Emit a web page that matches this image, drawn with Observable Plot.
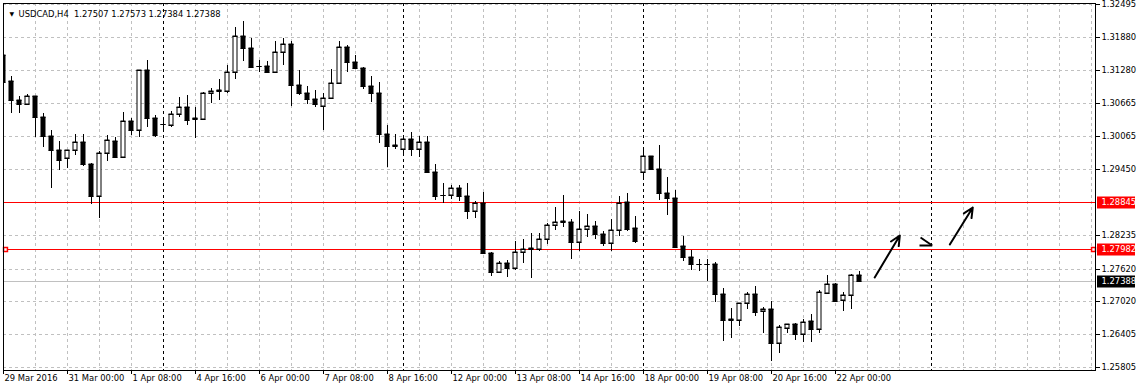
<!DOCTYPE html>
<html><head><meta charset="utf-8">
<script src="https://cdn.jsdelivr.net/npm/d3@7"></script>
<script src="https://cdn.jsdelivr.net/npm/@observablehq/plot@0.6"></script>
<style>
html,body{margin:0;padding:0;background:#fff;}
#chart{width:1138px;height:391px;overflow:hidden;}
</style></head><body><div id="chart"></div>
<script>
const symbol = "USDCAD";
const timeframe = "H4";
const opens = [1.31555,1.31076,1.30726,1.30646,1.30794,1.30407,1.30068,1.29810,1.29651,1.29799,
1.29946,1.29546,1.28962,1.29743,1.29965,1.29681,1.30333,1.30173,1.31279,1.30400,
1.30283,1.30271,1.30462,1.30591,1.30388,1.30376,1.30849,1.30910,1.30886,1.31236,
1.31905,1.31690,1.31352,1.31347,1.31247,1.31605,1.31752,1.31002,1.30860,1.30739,
1.30621,1.30757,1.31034,1.31697,1.31421,1.31321,1.30989,1.30849,1.30094,1.29891,
1.29817,1.30001,1.29828,1.29946,1.29399,1.28969,1.28969,1.29098,1.28962,1.28686,
1.28822,1.27911,1.27550,1.27716,1.27624,1.27930,1.27998,1.27980,1.28164,1.28416,
1.28496,1.28472,1.28114,1.28348,1.28398,1.28262,1.28096,1.28324,1.28840,1.28367,
1.29393,1.29688,1.29454,1.29017,1.28925,1.28035,1.27827,1.27703,1.27698,1.27698,
1.27145,1.26684,1.26680,1.26979,1.27145,1.26831,1.26868,1.26242,1.26518,1.26592,
1.26408,1.26653,1.26500,1.27174,1.27335,1.27034,1.27126,1.27507];
const highs = [1.32077,1.31168,1.30799,1.30836,1.30799,1.30492,1.30173,1.29970,1.29805,1.30099,
1.30099,1.29560,1.29780,1.30075,1.30049,1.30499,1.30388,1.31285,1.31463,1.30449,
1.30394,1.30523,1.30781,1.30812,1.30591,1.30868,1.30947,1.31113,1.31371,1.32077,
1.32182,1.31874,1.31463,1.31444,1.31813,1.31868,1.31813,1.31279,1.30984,1.30910,
1.30849,1.31297,1.31813,1.31739,1.31555,1.31330,1.31168,1.31063,1.30265,1.30099,
1.30081,1.30130,1.30068,1.30062,1.29541,1.29202,1.29159,1.29159,1.29191,1.28870,
1.29036,1.27930,1.27764,1.27777,1.28127,1.28164,1.28269,1.28269,1.28464,1.28748,
1.28975,1.28533,1.28680,1.28619,1.28496,1.28311,1.28533,1.28956,1.29012,1.28582,
1.29865,1.29695,1.29896,1.29301,1.29067,1.28219,1.27961,1.27790,1.27790,1.27746,
1.27255,1.26898,1.26990,1.27182,1.27298,1.26911,1.27016,1.26579,1.26595,1.26616,
1.26684,1.26782,1.27224,1.27500,1.27347,1.27193,1.27519,1.27573];
const lows = [1.30726,1.30492,1.30492,1.30634,1.30044,1.29865,1.29109,1.29436,1.29478,1.29712,
1.29515,1.28803,1.28545,1.29607,1.29670,1.29670,1.30081,1.30038,1.30234,1.30049,
1.30173,1.30234,1.30407,1.30271,1.30020,1.30370,1.30676,1.30726,1.30860,1.31118,
1.31444,1.31321,1.31236,1.31229,1.31236,1.31365,1.30621,1.30818,1.30646,1.30602,
1.30173,1.30744,1.31021,1.31247,1.31310,1.30928,1.30694,1.29939,1.29496,1.29828,
1.29712,1.29694,1.29672,1.29386,1.28883,1.28833,1.28907,1.28870,1.28527,1.28545,
1.27900,1.27487,1.27543,1.27469,1.27593,1.27727,1.27440,1.27943,1.28072,1.28330,
1.28391,1.27801,1.27948,1.28206,1.28164,1.28035,1.27948,1.28225,1.28317,1.28090,
1.29283,1.29436,1.28883,1.28606,1.27993,1.27764,1.27593,1.27574,1.27390,1.27008,
1.26290,1.26345,1.26566,1.26874,1.26745,1.26437,1.25921,1.26068,1.26426,1.26303,
1.26260,1.26271,1.26426,1.27163,1.27021,1.26843,1.26879,1.27384];
const closes = [1.31063,1.30726,1.30646,1.30794,1.30407,1.30068,1.29810,1.29625,1.29799,1.29946,
1.29546,1.28962,1.29743,1.29983,1.29681,1.30333,1.30173,1.31279,1.30400,1.30081,
1.30274,1.30462,1.30591,1.30363,1.30376,1.30849,1.30892,1.30886,1.31236,1.31905,
1.31690,1.31334,1.31347,1.31247,1.31605,1.31752,1.31002,1.30860,1.30739,1.30646,
1.30757,1.31034,1.31697,1.31421,1.31321,1.30989,1.30849,1.30094,1.29883,1.29878,
1.30001,1.29828,1.29946,1.29399,1.28962,1.28975,1.29098,1.28962,1.28686,1.28822,
1.27911,1.27561,1.27716,1.27624,1.27930,1.27974,1.27980,1.28164,1.28416,1.28472,
1.28472,1.28114,1.28348,1.28398,1.28262,1.28096,1.28324,1.28822,1.28348,1.28133,
1.29688,1.29454,1.29017,1.28925,1.28011,1.27827,1.27703,1.27698,1.27695,1.27145,
1.26671,1.26680,1.26979,1.27145,1.26824,1.26868,1.26242,1.26537,1.26592,1.26408,
1.26634,1.26500,1.27187,1.27335,1.27027,1.27126,1.27500,1.27388];

const timeTickBars = [0,8,16,24,32,40,48,56,64,72,80,88,96,104];
const timeTickLabels = ["29 Mar 2016","31 Mar 00:00","1 Apr 08:00","4 Apr 16:00","6 Apr 00:00","7 Apr 08:00","8 Apr 16:00","12 Apr 00:00","13 Apr 08:00","14 Apr 16:00","18 Apr 00:00","19 Apr 08:00","20 Apr 16:00","22 Apr 00:00"];
const priceTicks = [1.32495,1.31880,1.31280,1.30665,1.30065,1.29450,1.28845,1.28235,1.27620,1.27020,1.26405,1.25805];
const separatorBars = [20,50,80,116];
const levelPrices = [1.28845, 1.27982];
const bidPrice = 1.27388;
// arrows drawn on the chart (bar index, price)
const arrowX1 = [108.9, 118.29];
const arrowY1 = [1.27469, 1.28072];
const arrowX2 = [112.04, 121.16];
const arrowY2 = [1.28238, 1.28759];
// short arrow head (two strokes meeting at the separator)
const headX1 = [114.5, 114.63];
const headY1 = [1.28053, 1.28201];
const headX2 = [116.09, 116.09];
const headY2 = [1.28053, 1.28053];

const candles = opens.map((o, i) => ({i, open: o, high: highs[i], low: lows[i], close: closes[i], up: closes[i] > o}));
const timeTicks = timeTickBars.map((b, k) => ({bar: b, label: timeTickLabels[k]}));
const arrows = arrowX1.map((x, k) => ({x1: x, y1: arrowY1[k], x2: arrowX2[k], y2: arrowY2[k]}));
const heads = headX1.map((x, k) => ({x1: x, y1: headY1[k], x2: headX2[k], y2: headY2[k]}));
const boxes = [
  {price: levelPrices[0], color: "#ff0000"},
  {price: levelPrices[1], color: "#ff0000"},
  {price: bidPrice, color: "#000000"}
];
const gridBars = d3.range(4, 137, 4).filter(b => !separatorBars.includes(b));
const last = candles[candles.length - 1];
const title = `${symbol},${timeframe}  ${[last.open, last.high, last.low, last.close].map(v => v.toFixed(5)).join(" ")}`;

const FS = 8.4;
const chart = Plot.plot({
  width: 1138, height: 391,
  marginLeft: 3, marginRight: 43, marginTop: 3, marginBottom: 21,
  style: {fontFamily: "DejaVu Sans, sans-serif", fontSize: FS + "px", background: "#fff", color: "#000"},
  x: {domain: [0, 136.5], axis: null},
  y: {domain: [1.257496, 1.32513], axis: null, round: true},
  marks: [
    Plot.ruleY(priceTicks, {y: d => d, stroke: "#c0c0c0", strokeDasharray: "3,3"}),
    Plot.ruleX(gridBars, {x: d => d, stroke: "#c0c0c0", strokeDasharray: "3,3"}),
    Plot.ruleX(separatorBars, {x: d => d, stroke: "#000", strokeDasharray: "3,3"}),
    Plot.ruleY([bidPrice], {y: d => d, stroke: "#c0c0c0"}),
    Plot.ruleY(levelPrices, {y: d => d, stroke: "#ff0000"}),
    Plot.ruleX(candles, {x: "i", y1: "low", y2: "high", stroke: "#000", clip: true}),
    Plot.rect(candles, {x1: d => d.i - 0.5, x2: d => d.i + 0.5, insetLeft: 2, insetRight: 2,
      y1: "open", y2: "close", fill: d => d.up ? "#ffffff" : "#000000", stroke: "#000", clip: true}),
    Plot.ruleY(candles, {y: "close", x1: d => d.i - 0.3125, x2: d => d.i + 0.3125, stroke: "#000", clip: true}),
    Plot.ruleY(candles, {y: "open", x1: d => d.i - 0.3125, x2: d => d.i + 0.3125, stroke: "#000", clip: true}),
    Plot.arrow(arrows, {x1: "x1", y1: "y1", x2: "x2", y2: "y2", stroke: "#000", strokeWidth: 2, headLength: 8, headAngle: 50}),
    Plot.link(heads, {x1: "x1", y1: "y1", x2: "x2", y2: "y2", stroke: "#000", strokeWidth: 2}),
    Plot.dot([levelPrices[1]], {y: d => d, frameAnchor: "left", dx: 2, symbol: "square", r: 2.2, stroke: "#ff0000", fill: "#fff"}),
    Plot.dot([levelPrices[1]], {y: d => d, frameAnchor: "right", dx: -2, symbol: "square", r: 2.2, stroke: "#ff0000", fill: "#fff"}),
    Plot.frame({stroke: "#000"}),
    Plot.axisY(priceTicks.filter(p => !levelPrices.includes(p)), {anchor: "right", tickSize: 4, tickPadding: 2, tickFormat: d => d.toFixed(5), label: null, fontSize: FS, stroke: "#000"}),
    Plot.ruleY(boxes, {y: "price", stroke: "color", strokeWidth: 12, insetLeft: 1094, insetRight: -40}),
    Plot.text(boxes, {y: "price", text: d => d.price.toFixed(5), frameAnchor: "right", dx: 6, textAnchor: "start", fill: "#fff", fontSize: FS}),
    Plot.ruleX(timeTicks, {x: "bar", insetTop: 367, insetBottom: -4, stroke: "#000"}),
    Plot.text(timeTicks, {x: "bar", text: "label", frameAnchor: "bottom", dy: 10, dx: 1, textAnchor: "start", fill: "#000", fontSize: FS}),
    Plot.text(["\u25BC"], {frameAnchor: "top-left", dx: 6, dy: 8, textAnchor: "start", fontSize: 6, fill: "#000"}),
    Plot.text([title], {text: d => d, frameAnchor: "top-left", dx: 15, dy: 8, textAnchor: "start", fontSize: FS, fill: "#000"})
  ]
});
document.getElementById("chart").appendChild(chart);
</script>
</body></html>
